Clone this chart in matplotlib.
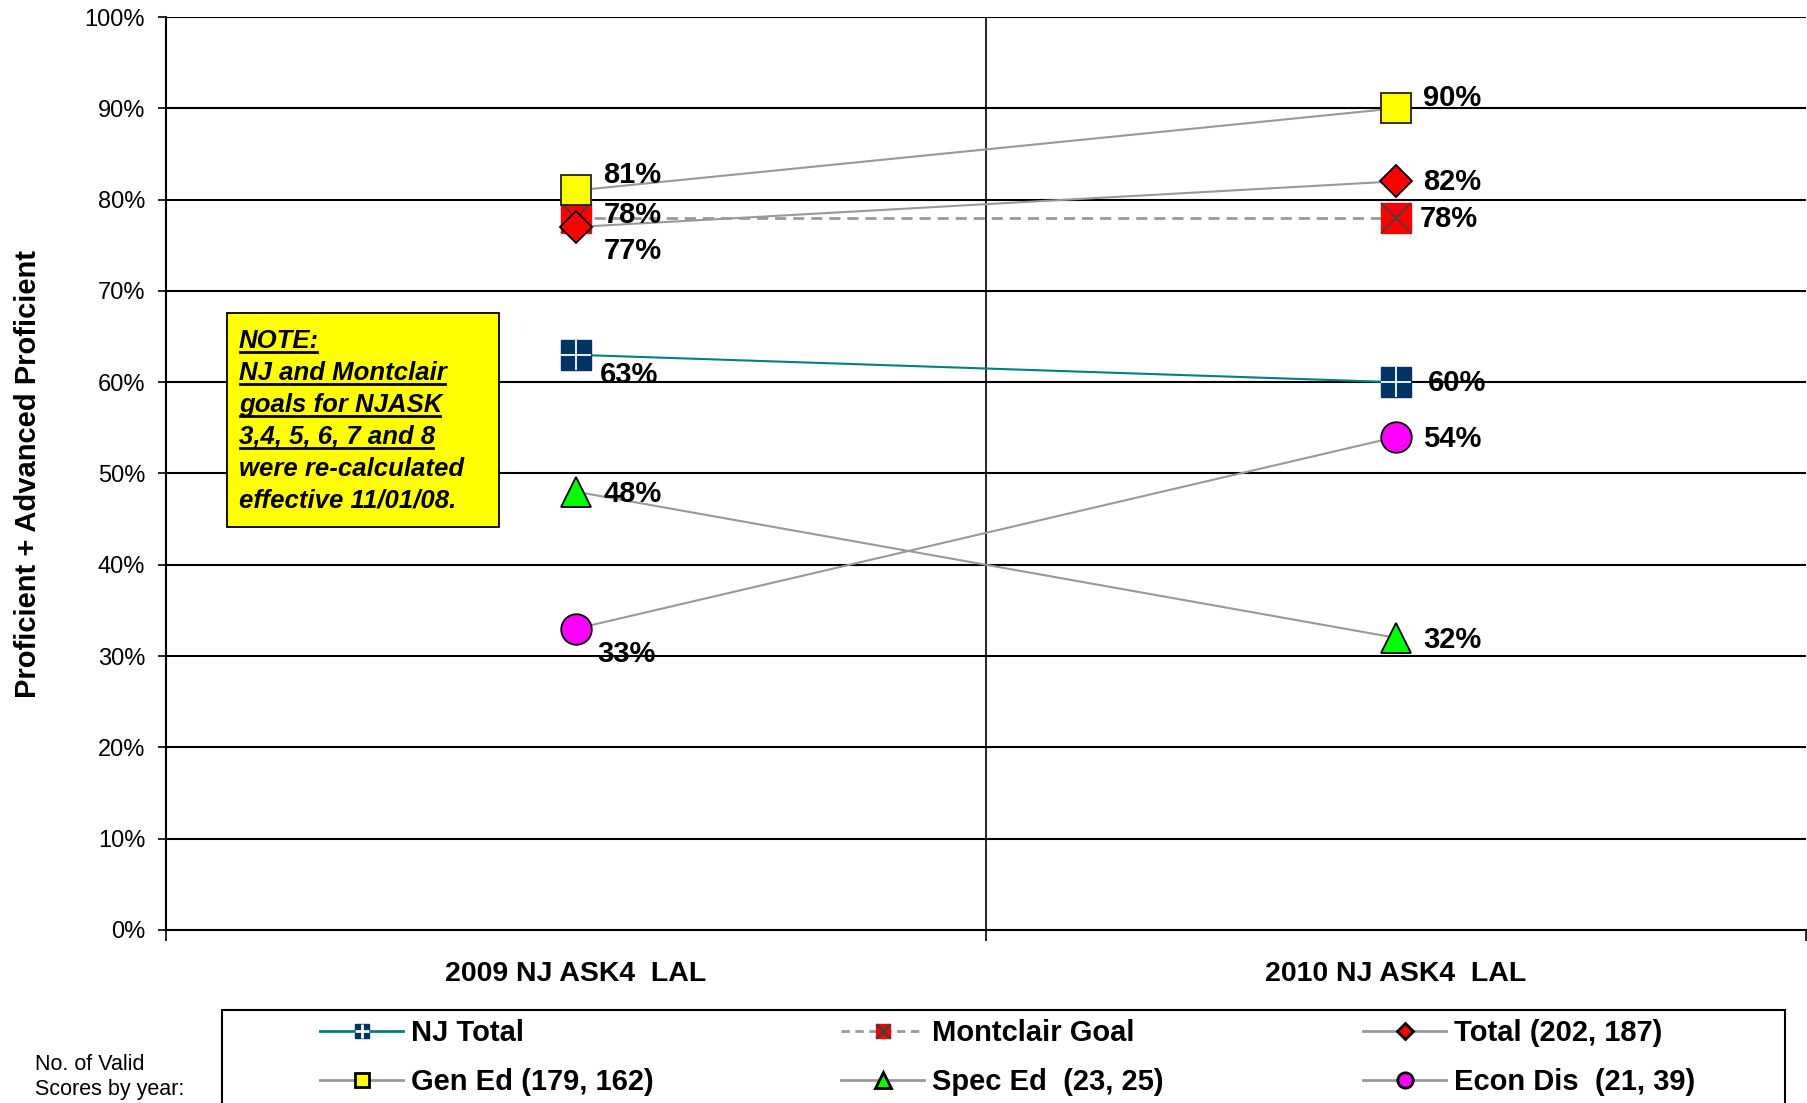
import matplotlib
matplotlib.use("Agg")
import matplotlib.pyplot as plt
from matplotlib.lines import Line2D
from matplotlib.patches import Rectangle
from matplotlib.transforms import IdentityTransform
from matplotlib.ticker import FuncFormatter

plt.rcParams['font.family'] = ['Liberation Sans', 'DejaVu Sans']

# data
categories = ["2009 NJ ASK4  LAL", "2010 NJ ASK4  LAL"]
nj_total = [63, 60]
montclair_goal = [78, 78]
total = [77, 82]
gen_ed = [81, 90]
spec_ed = [48, 32]
econ_dis = [33, 54]

series_names = ["NJ Total", "Montclair Goal", "Total (202, 187)",
                "Gen Ed (179, 162)", "Spec Ed  (23, 25)", "Econ Dis  (21, 39)"]

# label offsets in pixels (2009, 2010)
label_offsets = {
    "nj": [(24, -20), (32, -1)],
    "goal": [(28, 3), (24, -1)],
    "total": [(28, -24), (27, -1)],
    "gen": [(27, 15), (27, 10)],
    "spec": [(27, -2), (27, -2)],
    "econ": [(21, -25), (27, -2)],
}

fig = plt.figure(figsize=(18.07, 11.03), dpi=100)
ax = fig.add_axes([166 / 1807, 1 - 930 / 1103, 1 - 166 / 1807 - 0.0005, (930 - 17) / 1103])

x = [0, 1]
gray = "#999999"

# gridlines
for v in range(10, 101, 10):
    ax.axhline(v, color="black", lw=1.5, zorder=1)
ax.axvline(0.5, color="black", lw=1.2, zorder=1)

ms = 21.5
ax.plot(x, montclair_goal, color=gray, lw=2, ls=(0, (4, 2.5)), marker="s", ms=ms,
        mfc="red", mec="red", zorder=3)
ax.plot(x, montclair_goal, ls="none", marker="x", ms=ms, mec="#404040", mew=1.3, zorder=3.1)

ax.plot(x, nj_total, color="#008080", lw=1.5, marker="s", ms=ms,
        mfc="#003366", mec="#003366", zorder=4)
ax.plot(x, nj_total, ls="none", marker="+", ms=ms, mec="white", mew=1.3, zorder=4.1)

ax.plot(x, gen_ed, color=gray, lw=1.5, marker="s", ms=ms, mfc="#FFFF00", mec="#222222",
        mew=1.3, zorder=5)
ax.plot(x, total, color=gray, lw=1.5, marker="D", ms=16.5, mfc="red", mec="black",
        mew=1.3, zorder=6)
ax.plot(x, spec_ed, color=gray, lw=1.5, marker="^", ms=22, mfc="#00FF00", mec="black",
        mew=1.3, zorder=5)
ax.plot(x, econ_dis, color=gray, lw=1.5, marker="o", ms=22, mfc="#FF00FF", mec="black",
        mew=1.3, zorder=5)

for key, vals in [("nj", nj_total), ("goal", montclair_goal), ("total", total),
                  ("gen", gen_ed), ("spec", spec_ed), ("econ", econ_dis)]:
    for i, v in enumerate(vals):
        ax.annotate(f"{v}%", (x[i], v), xytext=label_offsets[key][i],
                    textcoords="offset pixels", ha="left", va="center",
                    fontsize=21, fontweight="bold", zorder=7)

ax.set_xlim(-0.5, 1.5)
ax.set_ylim(0, 100)
ax.set_yticks(range(0, 101, 10))
ax.yaxis.set_major_formatter(FuncFormatter(lambda v, p: f"{int(v)}%"))
ax.tick_params(axis="y", labelsize=17, length=6, width=1.2, direction="out", pad=9)
ax.set_xticks(x)
ax.set_xticklabels(categories, fontsize=20.5, fontweight="bold")
ax.tick_params(axis="x", length=0, pad=22)
ax.set_xticks([-0.5, 0.5, 1.5], minor=True)
ax.tick_params(axis="x", which="minor", length=8, width=1.2, direction="out")

for s in ["right", "top"]:
    ax.spines[s].set_visible(False)
for s in ["left", "bottom"]:
    ax.spines[s].set_linewidth(1.5)

ax.set_ylabel("Proficient + Advanced Proficient", fontsize=21, fontweight="bold", labelpad=31)

# note box
fig.add_artist(Rectangle((227 / 1807, 1 - 527 / 1103), (499 - 227) / 1807, (527 - 313) / 1103,
                         transform=fig.transFigure, facecolor="#FFFF00", edgecolor="black",
                         lw=1.3, zorder=10))
note_lines = ["NOTE:", "NJ and Montclair", "goals for NJASK", "3,4, 5, 6, 7 and 8",
              "were re-calculated", "effective 11/01/08."]
note_under = [True, True, True, True, False, False]
note_texts = []
for i, line in enumerate(note_lines):
    t = fig.text(239 / 1807, 1 - (341 + 32 * i) / 1103, line, fontsize=18.5, fontweight="bold",
                 fontstyle="italic", ha="left", va="center", zorder=11)
    note_texts.append(t)

# legend frame (runs off the bottom of the figure)
fig.add_artist(Rectangle((222 / 1807, -0.05), (1785 - 222) / 1807, 0.05 + 1 - 1010 / 1103,
                         transform=fig.transFigure, facecolor="white", edgecolor="black",
                         lw=1.5, zorder=1))

leg_cols = [
    [(Line2D([], [], color="#008080", lw=2, marker="s", ms=ms, mfc="#003366", mec="#003366"),
      Line2D([], [], ls="none", marker="+", ms=ms, mec="white", mew=2)),
     (Line2D([], [], color=gray, lw=2, marker="s", ms=ms, mfc="#FFFF00", mec="black", mew=2),)],
    [(Line2D([], [], color=gray, lw=2, ls=(0, (3, 2)), marker="s", ms=ms, mfc="red", mec="red"),
      Line2D([], [], ls="none", marker="x", ms=ms, mec="#404040", mew=2)),
     (Line2D([], [], color=gray, lw=2, marker="^", ms=22, mfc="#00FF00", mec="black", mew=2),)],
    [(Line2D([], [], color=gray, lw=2, marker="D", ms=16.5, mfc="red", mec="black", mew=2),),
     (Line2D([], [], color=gray, lw=2, marker="o", ms=22, mfc="#FF00FF", mec="black", mew=2),)],
]
leg_labels = [[series_names[0], series_names[3]],
              [series_names[1], series_names[4]],
              [series_names[2], series_names[5]]]
col_x = [320, 841, 1363]
for hs, ls_, cx in zip(leg_cols, leg_labels, col_x):
    leg = fig.legend(hs, ls_, loc="upper left", bbox_to_anchor=(cx / 1807, 1 - 1019 / 1103),
                     borderaxespad=0, borderpad=0, frameon=False,
                     prop={"size": 21, "weight": "bold"}, markerscale=0.5, handlelength=2.85,
                     handletextpad=0.28, labelspacing=0.72)
    leg.set_zorder(5)

fig.text(35 / 1807, 1 - 1064 / 1103, "No. of Valid", fontsize=15.5, ha="left", va="center")
fig.text(35 / 1807, 1 - 1090 / 1103, "Scores by year:", fontsize=15.5, ha="left", va="center")

# underline the note lines
fig.canvas.draw()
r = fig.canvas.get_renderer()
for t, u in zip(note_texts, note_under):
    if not u:
        continue
    bb = t.get_window_extent(r)
    fig.add_artist(Line2D([bb.x0 + 1, bb.x1 - 2], [bb.y0 + 1, bb.y0 + 1], transform=IdentityTransform(),
                          color="black", lw=2, zorder=12))

fig.savefig("out.png", dpi=100)
